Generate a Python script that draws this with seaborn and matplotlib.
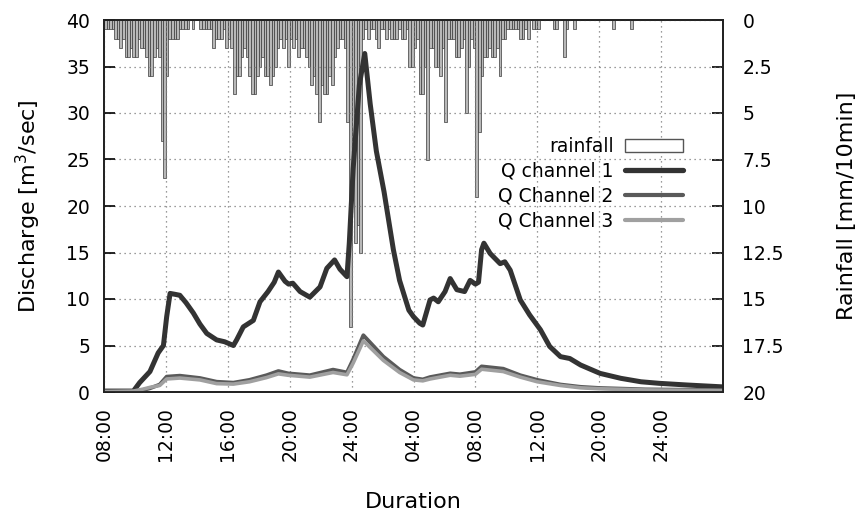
import numpy as np
import matplotlib
matplotlib.use("Agg")
import matplotlib.pyplot as plt
import seaborn as sns
from matplotlib.patches import Patch
from matplotlib.lines import Line2D

# ---------------- data ----------------
# rainfall per 10-minute step starting at 08:00 (mm/10min)
rain = [0.5, 0.5, 0.5, 0.5, 1, 1, 1.5, 1, 2, 2,
        1.5, 2, 2, 1, 1.5, 1.5, 2, 3, 3, 2,
        1.5, 2, 6.5, 8.5, 3, 1, 1, 1, 1, 0.5,
        0.5, 0.5, 0.5, 0, 0.5, 0, 0, 0.5, 0.5, 0.5,
        0.5, 0.5, 1.5, 1, 1, 1, 0.5, 1.5, 1, 1.5,
        4, 3, 3, 2, 1.5, 2, 3, 4, 4, 3,
        2.5, 2, 3, 3, 3.5, 3, 2.5, 1.5, 1, 1.5,
        1, 2.5, 1, 1.5, 1, 2, 1.5, 1.5, 2, 2.5,
        3.5, 3, 4, 5.5, 3.5, 4, 4, 3, 3.5, 2,
        1.5, 1, 1, 1.5, 5.5, 16.5, 8, 12, 11, 12.5,
        1, 0.5, 1, 0.5, 0.5, 1, 1.5, 0.5, 0.5, 1,
        0.5, 1, 1, 1, 0.5, 1, 1, 0.5, 2.5, 2.5,
        1.5, 1, 4, 4, 2.5, 7.5, 1.5, 1.5, 2.5, 2.5,
        3, 1.5, 5.5, 1, 1, 1, 2, 2, 1.5, 1,
        5, 2.5, 1, 1.5, 9.5, 6, 3, 2, 2, 1.5,
        2, 2, 1.5, 3, 1, 1, 0.5, 0.5, 0.5, 0.5,
        0.5, 1, 1, 0.5, 1, 0, 0.5, 0.5, 0.5, 0,
        0, 0, 0, 0, 0.5, 0.5, 0, 0, 2, 0.5,
        0, 0, 0.5, 0, 0, 0, 0, 0, 0, 0,
        0, 0, 0, 0, 0, 0, 0, 0.5, 0, 0,
        0, 0, 0, 0, 0.5]

# discharge, hours after 08:00
q1_t = [0, 1.0, 1.9, 2.3, 2.97, 3.5, 3.84, 4.05, 4.27, 4.6, 4.9, 5.3, 5.77,
        6.2, 6.64, 7.28, 7.8, 8.36, 8.57, 9.0, 9.65, 10.08, 10.6, 11.0, 11.27,
        11.7, 11.93, 12.2, 12.67, 13.3, 13.96, 14.4, 14.9, 15.25, 15.7, 15.85,
        16.1, 16.5, 16.85, 17.2, 17.6, 18.1, 18.7, 19.1, 19.7, 20.0, 20.4, 20.6,
        21.07, 21.3, 21.6, 22.04, 22.37, 22.8, 23.3, 23.66, 24.0, 24.2, 24.4,
        24.55, 24.95, 25.6, 25.9, 26.25, 26.9, 27.5, 28.2, 28.8, 29.5, 30.1,
        30.8, 32.06, 33.4, 34.7, 35.9, 37.7, 40.0]
q1 = [0.1, 0.1, 0.1, 1.0, 2.2, 4.2, 5.0, 8.1, 10.6, 10.5, 10.4, 9.6, 8.5,
      7.3, 6.3, 5.6, 5.4, 5.0, 5.6, 7.0, 7.7, 9.7, 10.8, 11.8, 12.9,
      11.9, 11.6, 11.7, 10.8, 10.2, 11.3, 13.3, 14.2, 13.2, 12.4, 16.0,
      24.0, 33.0, 36.4, 31.0, 25.9, 21.5, 15.3, 12.0, 8.8, 8.1, 7.4, 7.2,
      9.9, 10.1, 9.7, 10.8, 12.2, 11.0, 10.8, 12.0, 11.6, 11.8, 15.3,
      16.0, 14.9, 13.8, 14.0, 13.1, 9.9, 8.3, 6.7, 4.9, 3.8, 3.6,
      2.9, 2.0, 1.47, 1.1, 0.93, 0.75, 0.55]

q23_t = [0, 1.9, 2.5, 2.97, 3.6, 4.05, 4.9, 6.2, 7.28, 8.36, 9.4, 10.5, 11.27,
         11.9, 13.3, 14.8, 15.7, 16.1, 16.76, 18.05, 19.1, 20.0, 20.6, 21.07,
         22.37, 23.0, 24.0, 24.4, 25.8, 26.9, 28.0, 29.5, 30.8, 32.0, 35.0, 40.0]
q2 = [0.05, 0.05, 0.2, 0.4, 0.8, 1.65, 1.75, 1.5, 1.1, 1.0, 1.3, 1.8, 2.25,
      2.0, 1.8, 2.4, 2.1, 3.5, 6.1, 3.8, 2.4, 1.5, 1.35, 1.6,
      2.0, 1.9, 2.15, 2.75, 2.5, 1.8, 1.3, 0.8, 0.55, 0.43, 0.28, 0.2]
q3 = [0.05, 0.1, 0.3, 0.5, 0.7, 1.4, 1.5, 1.3, 0.9, 0.85, 1.1, 1.55, 1.95,
      1.8, 1.6, 2.1, 1.85, 3.1, 5.5, 3.4, 2.1, 1.3, 1.2, 1.4,
      1.8, 1.7, 1.9, 2.45, 2.2, 1.6, 1.1, 0.7, 0.45, 0.35, 0.22, 0.15]

x_ticks = [0, 4, 8, 12, 16, 20, 24, 28, 32, 36]
x_labels = ["08:00", "12:00", "16:00", "20:00", "24:00", "04:00",
            "08:00", "12:00", "20:00", "24:00"]
rain_ticks = [0, 2.5, 5, 7.5, 10, 12.5, 15, 17.5, 20]
rain_labels = ["0", "2.5", "5", "7.5", "10", "12.5", "15", "17.5", "20"]

# ---------------- style ----------------
sns.set_style("white")
plt.rcParams["font.family"] = ["DejaVu Sans"]
plt.rcParams["text.color"] = "black"
plt.rcParams["axes.labelcolor"] = "black"

C1, C2, C3 = "#333333", "#5a5a5a", "#a0a0a0"

fig = plt.figure(figsize=(8.58, 5.14), dpi=100)
ax = fig.add_axes([104 / 858, 1 - 392 / 514, 619 / 858, 372 / 514])
ax2 = ax.twinx()

t_rain = (np.arange(len(rain)) + 0.5) / 6.0
ax2.bar(t_rain, rain, width=1 / 6.0, color="#b8b8b8", edgecolor="#3a3a3a",
        linewidth=0.5)
ax2.set_ylim(20, 0)

ax.set_zorder(ax2.get_zorder() + 1)
ax.patch.set_visible(False)

sns.lineplot(x=q1_t, y=q1, ax=ax, color=C1, linewidth=3.6)
sns.lineplot(x=q23_t, y=q2, ax=ax, color=C2, linewidth=2.8)
sns.lineplot(x=q23_t, y=q3, ax=ax, color=C3, linewidth=2.6)

ax.set_xlim(0, 40)
ax.set_ylim(0, 40)
ax.set_xticks(x_ticks)
ax.set_xticklabels(x_labels, rotation=90)
ax.set_yticks(range(0, 41, 5))
ax2.set_yticks(rain_ticks)
ax2.set_yticklabels(rain_labels)

ax.grid(True, linestyle=(0, (1, 3)), color="#7a7a7a", linewidth=0.9)

ax.tick_params(axis="both", direction="in", length=8, width=1.2,
               labelsize=13.5, colors="black")
ax.tick_params(axis="y", pad=10, right=False)
ax.tick_params(axis="x", pad=11, top=False)
ax2.tick_params(axis="y", direction="in", length=8, width=1.2,
                labelsize=13.5, pad=14, colors="black")

for a in (ax, ax2):
    for s in a.spines.values():
        s.set_color("#222222")
        s.set_linewidth(1.3)

ax.set_ylabel("Discharge [m$^3$/sec]", fontsize=16, labelpad=17)
ax2.set_ylabel("Rainfall [mm/10min]", fontsize=16, labelpad=38)
ax.set_xlabel("Duration", fontsize=16, labelpad=22)

handles = [Patch(facecolor="white", edgecolor="#555555", linewidth=1.0),
           Line2D([], [], color=C1, linewidth=3.8),
           Line2D([], [], color=C2, linewidth=3.0),
           Line2D([], [], color=C3, linewidth=3.0)]
labels = ["rainfall", "Q channel 1", "Q Channel 2", "Q Channel 3"]
ax.legend(handles, labels, loc="upper right",
          bbox_to_anchor=(683 / 858, 1 - 137 / 514),
          bbox_transform=fig.transFigure, frameon=False, markerfirst=False,
          fontsize=13.5, handlelength=3.1, handletextpad=0.6,
          labelspacing=0.32, borderpad=0, borderaxespad=0)

fig.savefig("out.png", dpi=100, facecolor="white")
